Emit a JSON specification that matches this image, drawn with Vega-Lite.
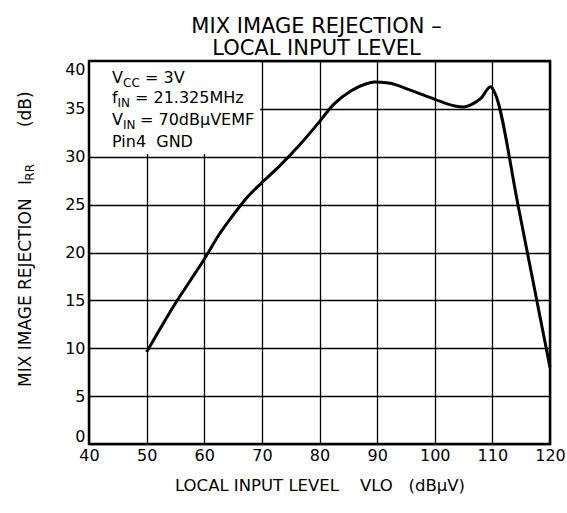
{
  "$schema": "https://vega.github.io/schema/vega-lite/v6.json",
  "width": 461,
  "height": 383,
  "autosize": {"type": "none"},
  "padding": {"left": 89, "top": 61, "right": 17, "bottom": 69},
  "background": "white",
  "config": {"font": "DejaVu Sans", "view": {"stroke": null}},
  "title": {
    "text": ["MIX IMAGE REJECTION –", "LOCAL INPUT LEVEL"],
    "fontSize": 21,
    "fontWeight": "normal",
    "font": "DejaVu Sans",
    "color": "black",
    "anchor": "middle",
    "frame": "group",
    "lineHeight": 22,
    "offset": 1,
    "dx": -3
  },
  "layer": [
    {
      "data": {"values": [
        {"vlo": 50, "irr": 9.6},
        {"vlo": 52.5, "irr": 12.2},
        {"vlo": 55, "irr": 14.7},
        {"vlo": 57.5, "irr": 17.0},
        {"vlo": 60, "irr": 19.3},
        {"vlo": 62.5, "irr": 21.8},
        {"vlo": 65, "irr": 23.9},
        {"vlo": 67.5, "irr": 25.8},
        {"vlo": 70, "irr": 27.3},
        {"vlo": 73, "irr": 29.0},
        {"vlo": 76.5, "irr": 31.2},
        {"vlo": 79.5, "irr": 33.3},
        {"vlo": 82.5, "irr": 35.5},
        {"vlo": 85.5, "irr": 36.9},
        {"vlo": 88, "irr": 37.6},
        {"vlo": 89.5, "irr": 37.8},
        {"vlo": 92, "irr": 37.7},
        {"vlo": 96, "irr": 36.9},
        {"vlo": 100, "irr": 36.0},
        {"vlo": 103.5, "irr": 35.3},
        {"vlo": 105, "irr": 35.2},
        {"vlo": 106.5, "irr": 35.5},
        {"vlo": 108, "irr": 36.1},
        {"vlo": 109.7, "irr": 37.3},
        {"vlo": 110.4, "irr": 36.7},
        {"vlo": 114.5, "irr": 24.8},
        {"vlo": 120, "irr": 8.0}
      ]},
      "mark": {"type": "line", "interpolate": "monotone", "color": "black", "strokeWidth": 3},
      "encoding": {
        "x": {
          "field": "vlo", "type": "quantitative",
          "scale": {"domain": [40, 120], "nice": false, "zero": false},
          "axis": {
            "values": [40, 50, 60, 70, 80, 90, 100, 110, 120],
            "title": "LOCAL INPUT LEVEL\u00a0\u00a0\u00a0 VLO\u00a0\u00a0 (dBμV)",
            "grid": true, "gridColor": "black", "gridWidth": 1.3, "gridOpacity": 1,
            "domain": false, "ticks": false,
            "labelFontSize": 16, "labelColor": "black", "labelPadding": 3,
            "labelFlush": false, "labelOverlap": false, "labelBound": false,
            "titleFontSize": 16.5, "titleFontWeight": "normal", "titleColor": "black",
            "titlePadding": 14
          }
        },
        "y": {
          "field": "irr", "type": "quantitative",
          "scale": {"domain": [0, 40], "nice": false},
          "axis": {
            "values": [0, 5, 10, 15, 20, 25, 30, 35, 40],
            "title": null,
            "grid": true, "gridColor": "black", "gridWidth": 1.3, "gridOpacity": 1,
            "domain": false, "ticks": false,
            "labelFontSize": 16, "labelColor": "black", "labelPadding": 4,
            "labelFlush": true, "labelOverlap": false, "labelBound": false
          }
        }
      }
    },
    {
      "data": {"values": [{}]},
      "mark": {"type": "rect", "fill": "white"},
      "encoding": {"x": {"datum": 40}, "x2": {"datum": 69.7}, "y": {"datum": 30.3}, "y2": {"datum": 40}}
    },
    {
      "data": {"values": [{}]},
      "mark": {"type": "rect", "fillOpacity": 0, "stroke": "black", "strokeWidth": 2.5},
      "encoding": {"x": {"datum": 40}, "x2": {"datum": 120}, "y": {"datum": 0}, "y2": {"datum": 40}}
    },
    {"data": {"values": [{}]},
     "mark": {"type": "text", "text": "V", "fontSize": 16, "align": "left", "baseline": "alphabetic", "dx": 23},
     "encoding": {"x": {"datum": 40}, "y": {"datum": 37.7}}},
    {"data": {"values": [{}]},
     "mark": {"type": "text", "text": "CC", "fontSize": 12, "align": "left", "baseline": "alphabetic", "dx": 34, "dy": 4},
     "encoding": {"x": {"datum": 40}, "y": {"datum": 37.7}}},
    {"data": {"values": [{}]},
     "mark": {"type": "text", "text": "= 3V", "fontSize": 16, "align": "left", "baseline": "alphabetic", "dx": 56},
     "encoding": {"x": {"datum": 40}, "y": {"datum": 37.7}}},
    {"data": {"values": [{}]},
     "mark": {"type": "text", "text": "f", "fontSize": 16, "align": "left", "baseline": "alphabetic", "dx": 23},
     "encoding": {"x": {"datum": 40}, "y": {"datum": 35.6}}},
    {"data": {"values": [{}]},
     "mark": {"type": "text", "text": "IN", "fontSize": 12, "align": "left", "baseline": "alphabetic", "dx": 28.5, "dy": 4},
     "encoding": {"x": {"datum": 40}, "y": {"datum": 35.6}}},
    {"data": {"values": [{}]},
     "mark": {"type": "text", "text": "= 21.325MHz", "fontSize": 16, "align": "left", "baseline": "alphabetic", "dx": 46},
     "encoding": {"x": {"datum": 40}, "y": {"datum": 35.6}}},
    {"data": {"values": [{}]},
     "mark": {"type": "text", "text": "V", "fontSize": 16, "align": "left", "baseline": "alphabetic", "dx": 23},
     "encoding": {"x": {"datum": 40}, "y": {"datum": 33.3}}},
    {"data": {"values": [{}]},
     "mark": {"type": "text", "text": "IN", "fontSize": 12, "align": "left", "baseline": "alphabetic", "dx": 34, "dy": 4},
     "encoding": {"x": {"datum": 40}, "y": {"datum": 33.3}}},
    {"data": {"values": [{}]},
     "mark": {"type": "text", "text": "= 70dBμVEMF", "fontSize": 16, "align": "left", "baseline": "alphabetic", "dx": 51},
     "encoding": {"x": {"datum": 40}, "y": {"datum": 33.3}}},
    {"data": {"values": [{}]},
     "mark": {"type": "text", "text": "Pin4\u00a0 GND", "fontSize": 16, "align": "left", "baseline": "alphabetic", "dx": 23},
     "encoding": {"x": {"datum": 40}, "y": {"datum": 31.0}}},
    {"data": {"values": [{}]},
     "mark": {"type": "text", "text": "MIX IMAGE REJECTION", "fontSize": 17, "angle": 270, "align": "left", "baseline": "middle", "dy": -63},
     "encoding": {"x": {"datum": 40}, "y": {"datum": 5.95}}},
    {"data": {"values": [{}]},
     "mark": {"type": "text", "text": "I", "fontSize": 17, "angle": 270, "align": "left", "baseline": "middle", "dy": -63},
     "encoding": {"x": {"datum": 40}, "y": {"datum": 27.05}}},
    {"data": {"values": [{}]},
     "mark": {"type": "text", "text": "RR", "fontSize": 12, "angle": 270, "align": "left", "baseline": "middle", "dy": -59},
     "encoding": {"x": {"datum": 40}, "y": {"datum": 27.5}}},
    {"data": {"values": [{}]},
     "mark": {"type": "text", "text": "(dB)", "fontSize": 17, "angle": 270, "align": "left", "baseline": "middle", "dy": -63},
     "encoding": {"x": {"datum": 40}, "y": {"datum": 33.1}}}
  ]
}
